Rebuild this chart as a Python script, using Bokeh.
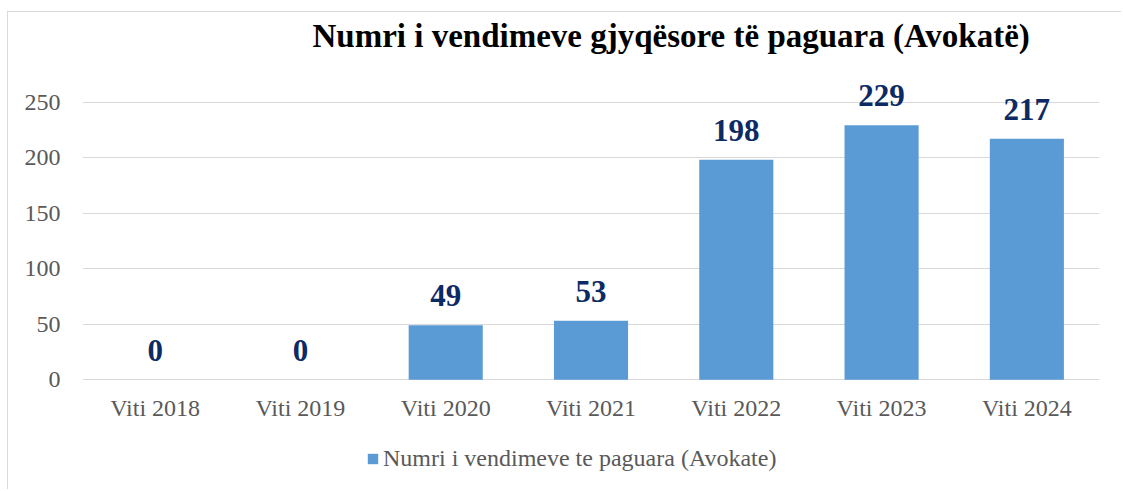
from bokeh.plotting import figure
from bokeh.models import (ColumnDataSource, FactorRange, Range1d, FixedTicker,
                          LabelSet, Legend, LegendItem)
from bokeh.embed import file_html
from bokeh.resources import INLINE

categories = ["Viti 2018", "Viti 2019", "Viti 2020", "Viti 2021",
              "Viti 2022", "Viti 2023", "Viti 2024"]
values = [0, 0, 49, 53, 198, 229, 217]
y_ticks = [0, 50, 100, 150, 200, 250]
title_text = "Numri i vendimeve gjyqësore të paguara (Avokatë)"
series_name = "Numri i vendimeve te paguara (Avokate)"

SERIF = "Liberation Serif"
GRAY = "#595959"
GRID = "#d9d9d9"
BAR = "#5b9bd5"
NAVY = "#0c2a64"

source = ColumnDataSource(dict(
    x=categories,
    y=values,
    base=[0] * len(categories),
    label=[str(v) for v in values],
))

p = figure(
    width=1114, height=478,
    x_range=FactorRange(*categories),
    y_range=Range1d(-98, 291),
    output_backend="svg",
    toolbar_location=None,
    min_border_left=74, min_border_right=23,
    min_border_top=0, min_border_bottom=2,
)
p.outline_line_color = None
p.background_fill_color = "white"
p.border_fill_color = "white"
p.styles = {"transform": "translate(7px, 11px)",
            "border-top": "1px solid #d9d9d9", "border-left": "1px solid #d9d9d9"}

p.title.text = title_text
p.title.text_font = SERIF
p.title.text_font_style = "bold"
p.title.text_font_size = "33px"
p.title.text_color = "black"
p.title.align = "left"
p.title.offset = 230
p.title.standoff = 6

bars = p.vbar(x="x", top="y", width=0.51, source=source,
              fill_color=BAR, line_color=None)

labels = LabelSet(x="x", y="y", text="label", source=source,
                  text_align="center", text_baseline="alphabetic",
                  y_offset=19, text_font=SERIF, text_font_style="bold",
                  text_font_size="31px", text_color=NAVY)
p.add_layout(labels)

# category labels under the baseline
cat_labels = LabelSet(x="x", y="base", text="x", source=source,
                      text_align="center", text_baseline="alphabetic",
                      y_offset=-36, text_font=SERIF,
                      text_font_size="24px", text_color=GRAY)
p.add_layout(cat_labels)

p.xaxis.visible = False

p.yaxis.ticker = FixedTicker(ticks=y_ticks)
p.yaxis.axis_line_color = None
p.yaxis.major_tick_line_color = None
p.yaxis.minor_tick_line_color = None
p.yaxis.major_label_text_font = SERIF
p.yaxis.major_label_text_font_size = "24px"
p.yaxis.major_label_text_color = GRAY
p.yaxis.major_label_standoff = 16

p.xgrid.grid_line_color = None
p.ygrid.grid_line_color = GRID
p.ygrid.ticker = FixedTicker(ticks=y_ticks)

legend = Legend(items=[LegendItem(label=series_name, renderers=[bars])],
                location=(284, 16), orientation="horizontal",
                padding=0, margin=0, spacing=0,
                glyph_width=13, glyph_height=13, label_standoff=4,
                label_text_font=SERIF, label_text_font_size="24px",
                label_text_color=GRAY, border_line_color=None,
                background_fill_alpha=0)
p.add_layout(legend, "center")

open("out.html", "w").write(file_html(p, INLINE))
